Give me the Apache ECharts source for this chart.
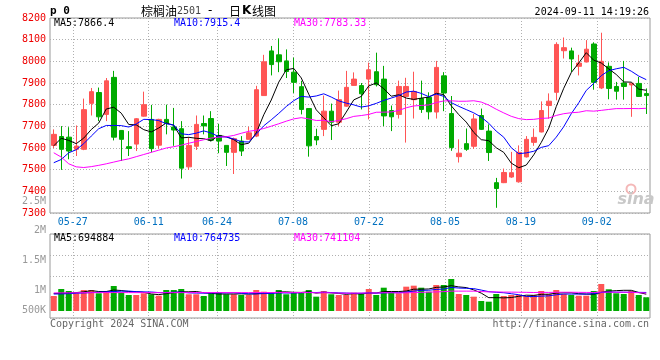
<!DOCTYPE html>
<html><head><meta charset="utf-8">
<script src="https://cdn.jsdelivr.net/npm/echarts@6/dist/echarts.min.js"></script>
<style>html,body{margin:0;padding:0;background:#fff}#c{width:660px;height:360px}</style>
</head><body><div id="c"></div>
<script>
// ---------------- data ----------------
const dates = ['05-22','05-23','05-24','05-27','05-28','05-29','05-30','05-31','06-03','06-04','06-05','06-06','06-07','06-11','06-12','06-13','06-14','06-17','06-18','06-19','06-20','06-21','06-24','06-25','06-26','06-27','06-28','07-01','07-02','07-03','07-04','07-05','07-08','07-09','07-10','07-11','07-12','07-15','07-16','07-17','07-18','07-19','07-22','07-23','07-24','07-25','07-26','07-29','07-30','07-31','08-01','08-02','08-05','08-06','08-07','08-08','08-09','08-12','08-13','08-14','08-15','08-16','08-19','08-20','08-21','08-22','08-23','08-26','08-27','08-28','08-29','08-30','09-02','09-03','09-04','09-05','09-06','09-09','09-10','09-11'];
const labelDates = ['05-27','06-11','06-24','07-08','07-22','08-05','08-19','09-02'];

const open  = [7612,7653,7650,7594,7594,7806,7856,7755,7926,7681,7606,7618,7747,7732,7613,7732,7697,7689,7513,7608,7713,7736,7658,7612,7580,7632,7640,7655,7842,8048,8030,8002,7950,7883,7782,7653,7686,7770,7719,7793,7889,7888,7918,7952,7918,7773,7755,7838,7823,7828,7834,7766,7933,7759,7560,7620,7608,7750,7678,7440,7440,7466,7444,7559,7626,7674,7796,7857,8049,8048,7977,7997,8080,7877,7977,7884,7900,7891,7898,7851];
const close = [7663,7594,7586,7609,7777,7860,7744,7910,7650,7640,7598,7735,7800,7597,7732,7713,7683,7507,7612,7709,7702,7636,7632,7580,7643,7586,7670,7869,7998,7985,7998,7953,7903,7778,7610,7637,7770,7719,7823,7880,7918,7850,7961,7892,7748,7744,7884,7884,7861,7778,7767,7972,7854,7602,7576,7594,7734,7686,7579,7413,7487,7486,7580,7640,7649,7773,7816,8078,8063,8011,7992,8056,7903,8000,7875,7862,7884,7899,7838,7842];
const low   = [7600,7499,7548,7563,7590,7750,7724,7724,7635,7540,7563,7586,7745,7580,7597,7663,7610,7459,7499,7591,7663,7630,7576,7517,7480,7563,7640,7650,7842,7935,7950,7923,7854,7755,7560,7613,7655,7637,7701,7790,7888,7778,7732,7884,7701,7678,7736,7625,7736,7762,7732,7736,7770,7587,7533,7587,7596,7683,7540,7324,7438,7462,7440,7556,7610,7672,7735,7820,8013,7950,7935,7995,7869,7872,7825,7823,7823,7744,7836,7757];
const high  = [7686,7701,7696,7704,7828,7877,7879,7923,7956,7681,7678,7738,7860,7799,7735,7800,7785,7724,7650,7750,7750,7770,7712,7612,7648,7655,7698,7887,8030,8071,8106,8055,8017,7910,7782,7689,7842,7805,7865,7956,7949,7900,7994,8040,7979,7796,7911,7924,7952,7911,7857,8002,7950,7840,7640,7690,7757,7782,7709,7462,7505,7582,7612,7655,7690,7815,7852,8088,8110,8063,8030,8098,8088,8132,7995,7905,8002,7900,7928,7875];

const ma5  = [7610,7645,7635,7620,7645.8,7685.2,7715.2,7780.0,7788.2,7760.8,7708.4,7706.6,7684.6,7674.0,7692.4,7715.4,7705.0,7646.4,7649.4,7644.8,7642.6,7633.2,7658.2,7651.8,7638.6,7615.4,7622.2,7669.6,7753.2,7821.6,7904.0,7960.6,7967.4,7923.4,7848.4,7776.2,7739.6,7702.8,7711.8,7765.8,7822.0,7838.0,7886.4,7900.2,7873.8,7839.0,7845.8,7830.4,7824.2,7830.2,7834.8,7852.4,7846.4,7794.6,7754.2,7719.6,7672.0,7638.4,7633.8,7601.2,7579.8,7530.2,7509.0,7521.2,7568.4,7625.6,7691.6,7791.2,7875.8,7948.2,7992.0,8040.0,8005.0,7992.4,7965.2,7939.2,7904.8,7904.0,7871.6,7866.4];
const ma10 = [7532,7547,7578,7592,7620,7655,7689,7704,7704,7703.3,7696.8,7710.9,7732.3,7731.1,7726.6,7711.9,7705.8,7665.5,7661.7,7668.6,7679.0,7669.1,7652.3,7650.6,7641.7,7629.0,7627.7,7663.9,7702.5,7730.1,7759.7,7791.4,7818.5,7838.3,7835.0,7840.1,7850.1,7835.1,7817.6,7807.1,7799.1,7788.8,7794.6,7806.0,7819.8,7830.5,7841.9,7858.4,7862.2,7852.0,7836.9,7849.1,7838.4,7809.4,7792.2,7777.2,7762.2,7742.4,7714.2,7677.7,7649.7,7601.1,7573.7,7577.5,7584.8,7602.7,7610.9,7650.1,7698.5,7758.3,7808.8,7865.8,7898.1,7934.1,7956.7,7965.6,7972.4,7954.5,7932.0,7915.4];
const ma30 = [7578,7558,7527,7513,7510,7514,7520,7527,7535,7543,7550,7560,7570,7580,7590,7600,7606,7613,7622,7630,7638,7646,7650,7652,7658,7668,7677,7682,7690,7700.7,7711.8,7723.8,7734.4,7740.0,7734.4,7727.0,7727.9,7721.5,7727.3,7735.3,7745.9,7749.8,7755.1,7765.0,7765.5,7766.5,7773.2,7785.8,7794.1,7796.4,7798.6,7809.8,7817.2,7817.9,7815.7,7815.9,7818.1,7812.0,7798.0,7778.9,7761.9,7746.3,7735.6,7731.0,7732.3,7736.8,7738.3,7750.3,7758.3,7762.7,7765.1,7772.0,7770.1,7773.7,7777.9,7781.8,7781.8,7782.3,7781.6,7783.33];

// volume, thousand lots
const volume = [620,909,826,731,867,867,731,826,1033,772,661,661,731,690,632,867,867,909,690,690,620,731,772,690,690,661,661,867,797,731,867,690,772,772,867,591,826,690,661,661,756,731,909,661,962,756,731,1004,1045,962,797,1074,1074,1322,702,661,591,413,384,702,620,661,661,620,661,826,702,867,702,661,632,632,826,1115,896,731,702,826,661,566];
const volMa5  = [720,730,740,760,791,840,804,804,865,846,805,791,772,703,675,716,757,793,793,805,755,728,701,701,701,709,695,714,735,743,785,790,771,766,794,738,766,749,727,686,719,700,744,744,804,804,804,823,900,900,908,976,990,1046,994,967,870,738,550,550,542,556,606,653,645,686,694,735,752,752,713,699,691,773,820,840,854,854,763,694.9];
const volMa10 = [700,705,715,730,745,760,775,790,805,818,822,798,788,784,760,760,774,782,748,740,736,743,747,747,753,732,711,707,718,722,747,743,743,751,769,762,778,760,747,740,729,733,746,735,745,761,752,783,822,852,856,890,907,973,947,937,923,864,798,772,754,713,672,602,597,614,625,670,702,698,699,696,713,762,786,776,776,772,768,764.7];
const volMa30 = [745,748,750,752,755,757,758,760,760,760,759,758,758,757,757,757,758,758,759,759,760,760,760,760,760,760,760,760,760,760,768,761,759,761,761,751,754,750,738,734,737,739,745,744,755,752,747,750,762,771,777,788,799,820,820,820,818,803,789,788,780,779,775,770,763,771,767,773,774,774,770,767,764,779,777,776,775,769,756,741.1];

const priceMin = 7300, priceMax = 8200, priceStep = 100;
const volTickLabels = ['2.5M','2M','1.5M','1M','500K'];
const mainLegend = ['MA5:7866.4','MA10:7915.4','MA30:7783.33'];
const volLegend  = ['MA5:694884','MA10:764735','MA30:741104'];

// ---------------- styles / layout ----------------
const RED = '#ff5555', GREEN = '#00aa00';
const MA_COLORS = ['#000000','#0000ff','#ff00ff'];
const MONO = "'DejaVu Sans Mono', monospace";
const GRID_LINE = {color:'#b0b0b0', type:[1,2], width:1};
const volLabelY = [201, 230.5, 260, 290, 310];
const legendX = [54, 174, 294];

const labelIdx = labelDates.map(d => dates.indexOf(d));
const ohlc = dates.map((d,i) => [open[i], close[i], low[i], high[i]]);
const volData = volume.map((v,i) => ({value:v, itemStyle:{color: close[i] >= open[i] ? RED : GREEN}}));

const chart = echarts.init(document.getElementById('c'), null, {renderer:'canvas'});

const texts = [];
function txt(x, y, s, fill, opts) {
  texts.push(Object.assign({type:'text', x:x, y:y, silent:true, z:100,
    style: Object.assign({text:s, fill:fill, font:'10px ' + MONO, align:'left', verticalAlign:'middle'}, opts || {})}));
}
txt(50, 11, 'p 0', '#000', {font:'bold 11px ' + MONO});
txt(141, 11, '棕榈油', '#000', {font:"12px 'Noto Sans CJK SC'"});
txt(177, 11.5, '2501', '#444', {font:'10px ' + MONO});
txt(208, 11, '-', '#000', {font:"12px 'DejaVu Sans'"});
txt(229, 11, '日', '#000', {font:"12px 'Noto Sans CJK SC'"});
txt(242, 11, 'K', '#000', {font:"bold 12px 'DejaVu Sans'"});
txt(252, 11, '线图', '#000', {font:"12px 'Noto Sans CJK SC'"});
txt(649, 12, '2024-09-11 14:19:26', '#000', {align:'right'});
mainLegend.forEach((s,k) => txt(legendX[k], 23.5, s, MA_COLORS[k]));
volLegend.forEach((s,k) => txt(legendX[k], 238.5, s, MA_COLORS[k]));
volTickLabels.forEach((s,k) => txt(46, volLabelY[k], s, '#999', {align:'right'}));
txt(50, 324, 'Copyright 2024 SINA.COM', '#666');
txt(649, 324, 'http://finance.sina.com.cn', '#666', {align:'right'});
txt(636, 200, 'sina', '#c8c8c8', {font:"italic bold 16px 'DejaVu Sans'", align:'center'});
texts.push({type:'circle', shape:{cx:631, cy:189, r:4.5}, silent:true, z:99,
  style:{fill:'none', stroke:'#f4b8b8', lineWidth:2}});

function lineSeries(name, data, color, xi, yi) {
  return {name:name, type:'line', data:data, xAxisIndex:xi, yAxisIndex:yi,
    symbol:'none', showSymbol:false, smooth:false, silent:true,
    lineStyle:{width:1, color:color}, itemStyle:{color:color}, z:5};
}

const option = {
  animation:false,
  backgroundColor:'#fff',
  graphic: texts,
  grid:[
    {left:50, top:18, width:600, height:195, show:true, borderColor:'#999', borderWidth:1, backgroundColor:'transparent', outerBoundsMode:'none', containLabel:false},
    {left:50, top:234, width:600, height:84, show:true, borderColor:'#999', borderWidth:1, backgroundColor:'transparent', outerBoundsMode:'none', containLabel:false}
  ],
  xAxis:[
    {type:'category', gridIndex:0, data:dates, boundaryGap:true,
      axisLine:{show:false}, axisTick:{show:false}, axisLabel:{show:false}, splitLine:{show:false}},
    {type:'value', gridIndex:0, min:0, max:dates.length-1, position:'bottom',
      axisLine:{show:false},
      axisTick:{show:false, customValues:labelIdx},
      axisLabel:{customValues:labelIdx, formatter:v => dates[Math.round(v)], color:'#0070c0',
        fontFamily:MONO, fontSize:10, margin:4},
      splitLine:{show:true, lineStyle:GRID_LINE}},
    {type:'category', gridIndex:1, data:dates, boundaryGap:true,
      axisLine:{show:false}, axisTick:{show:false}, axisLabel:{show:false}, splitLine:{show:false}},
    {type:'value', gridIndex:1, min:0, max:dates.length-1, position:'bottom',
      axisLine:{show:false},
      axisTick:{show:true, customValues:labelIdx, length:3, lineStyle:GRID_LINE},
      axisLabel:{show:false, customValues:labelIdx},
      splitLine:{show:true, lineStyle:GRID_LINE}}
  ],
  yAxis:[
    {type:'value', gridIndex:0, min:priceMin, max:priceMax, interval:priceStep,
      axisLine:{show:false}, axisTick:{show:false},
      axisLabel:{color:'#ee0000', fontFamily:MONO, fontSize:10, margin:4, padding:[0,0,4,0],
        formatter:v => String(v)},
      splitLine:{show:true, lineStyle:GRID_LINE}},
    {type:'value', gridIndex:1, min:-290, max:3180,
      axisLine:{show:false}, axisTick:{show:false}, axisLabel:{show:false}, splitLine:{show:false}},
    {type:'value', gridIndex:1, min:0, max:4, interval:1,
      axisLine:{show:false}, axisTick:{show:false}, axisLabel:{show:false},
      splitLine:{show:true, lineStyle:GRID_LINE}}
  ],
  series:[
    {name:'K', type:'candlestick', data:ohlc, xAxisIndex:0, yAxisIndex:0, barWidth:5, silent:true,
      itemStyle:{color:RED, color0:GREEN, borderColor:RED, borderColor0:GREEN, borderWidth:1}, z:3},
    lineSeries('MA5', ma5, MA_COLORS[0], 0, 0),
    lineSeries('MA10', ma10, MA_COLORS[1], 0, 0),
    lineSeries('MA30', ma30, MA_COLORS[2], 0, 0),
    {name:'VOL', type:'bar', data:volData, xAxisIndex:2, yAxisIndex:1, barWidth:6, silent:true, z:3},
    lineSeries('VMA5', volMa5, MA_COLORS[0], 2, 1),
    lineSeries('VMA10', volMa10, MA_COLORS[1], 2, 1),
    lineSeries('VMA30', volMa30, MA_COLORS[2], 2, 1)
  ]
};
chart.setOption(option);
</script>
</body></html>
